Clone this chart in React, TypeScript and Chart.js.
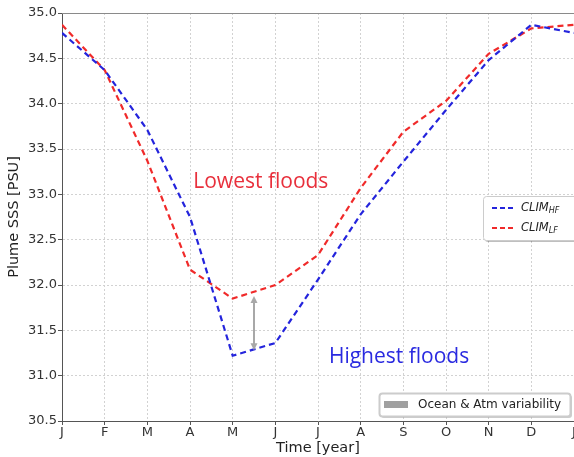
import React, { useEffect, useRef } from "react";
import { Chart, registerables } from "chart.js";

Chart.register(...registerables);

const monthLabels = ["J", "F", "M", "A", "M", "J", "J", "A", "S", "O", "N", "D", "J"];
const monthIndex = [0, 1, 2, 3, 4, 5, 6, 7, 8, 9, 10, 11, 12];
const climHF = [34.78, 34.37, 33.71, 32.75, 31.22, 31.36, 32.06, 32.78, 33.36, 33.93, 34.48, 34.87, 34.78];
const climLF = [34.87, 34.37, 33.37, 32.17, 31.85, 32.0, 32.33, 33.07, 33.69, 34.03, 34.55, 34.83, 34.87];
const yTicks = [30.5, 31.0, 31.5, 32.0, 32.5, 33.0, 33.5, 34.0, 34.5, 35.0];
const arrowX = 4.5;
const arrowRange = [31.88, 31.28];
const annotations = [
  { text: "Lowest floods", x: 4.66, y: 33.14, color: "#e8303c" },
  { text: "Highest floods", x: 7.9, y: 31.21, color: "#2a2ae0" },
];

const BLUE = "#2424dc";
const RED = "#f02a2a";

const overlay = {
  id: "overlay",
  afterDatasetsDraw(chart: any) {
    const ctx = chart.ctx;
    const xs = chart.scales.x;
    const ys = chart.scales.y;
    const ca = chart.chartArea;
    ctx.save();
    ctx.strokeStyle = "#8a8a8a";
    ctx.lineWidth = 1;
    ctx.beginPath();
    ctx.moveTo(ca.left, ca.top + 0.5);
    ctx.lineTo(ca.right, ca.top + 0.5);
    ctx.stroke();

    const ax = xs.getPixelForValue(arrowX);
    const y1 = ys.getPixelForValue(arrowRange[0]);
    const y2 = ys.getPixelForValue(arrowRange[1]);
    ctx.strokeStyle = "#a8a8a8";
    ctx.fillStyle = "#a8a8a8";
    ctx.lineWidth = 2;
    ctx.beginPath();
    ctx.moveTo(ax, y1 + 4);
    ctx.lineTo(ax, y2 - 4);
    ctx.stroke();
    ctx.beginPath();
    ctx.moveTo(ax, y1);
    ctx.lineTo(ax - 3.5, y1 + 7);
    ctx.lineTo(ax + 3.5, y1 + 7);
    ctx.closePath();
    ctx.fill();
    ctx.beginPath();
    ctx.moveTo(ax, y2);
    ctx.lineTo(ax - 3.5, y2 - 7);
    ctx.lineTo(ax + 3.5, y2 - 7);
    ctx.closePath();
    ctx.fill();

    ctx.font = "21px 'Open Sans', 'Noto Sans', sans-serif";
    ctx.textAlign = "center";
    ctx.textBaseline = "middle";
    for (const a of annotations) {
      ctx.fillStyle = a.color;
      ctx.fillText(a.text, xs.getPixelForValue(a.x), ys.getPixelForValue(a.y));
    }

    const roundRect = (x: number, y: number, w: number, h: number, r: number) => {
      ctx.beginPath();
      ctx.moveTo(x + r, y);
      ctx.lineTo(x + w - r, y);
      ctx.quadraticCurveTo(x + w, y, x + w, y + r);
      ctx.lineTo(x + w, y + h - r);
      ctx.quadraticCurveTo(x + w, y + h, x + w - r, y + h);
      ctx.lineTo(x + r, y + h);
      ctx.quadraticCurveTo(x, y + h, x, y + h - r);
      ctx.lineTo(x, y + r);
      ctx.quadraticCurveTo(x, y, x + r, y);
      ctx.closePath();
    };
    const lx = ca.right - 91;
    const ly = ca.top + 183;
    ctx.fillStyle = "rgba(0,0,0,0.25)";
    roundRect(lx + 2, ly + 2, 100, 44, 3);
    ctx.fill();
    ctx.fillStyle = "#ffffff";
    ctx.strokeStyle = "#cccccc";
    ctx.lineWidth = 1;
    roundRect(lx + 0.5, ly + 0.5, 100, 44, 3);
    ctx.fill();
    ctx.stroke();
    const entries = [
      { color: BLUE, sub: "HF" },
      { color: RED, sub: "LF" },
    ];
    entries.forEach((e, i) => {
      const yy = ly + 12 + i * 20;
      ctx.strokeStyle = e.color;
      ctx.lineWidth = 2;
      ctx.setLineDash([5, 3]);
      ctx.beginPath();
      ctx.moveTo(lx + 9, yy);
      ctx.lineTo(lx + 31, yy);
      ctx.stroke();
      ctx.setLineDash([]);
      ctx.fillStyle = "#222222";
      ctx.textAlign = "left";
      ctx.textBaseline = "middle";
      ctx.font = "italic 11.5px 'DejaVu Sans', sans-serif";
      ctx.fillText("CLIM", lx + 38, yy);
      const w = ctx.measureText("CLIM").width;
      ctx.font = "italic 8px 'DejaVu Sans', sans-serif";
      ctx.fillText(e.sub, lx + 38 + w, yy + 3);
    });

    const bx = ca.left + 317;
    const by = ca.bottom - 28;
    ctx.fillStyle = "rgba(0,0,0,0.2)";
    roundRect(bx + 2, by + 2, 191, 23, 3);
    ctx.fill();
    ctx.fillStyle = "#ffffff";
    ctx.strokeStyle = "#cccccc";
    roundRect(bx + 0.5, by + 0.5, 191, 23, 3);
    ctx.fill();
    ctx.stroke();
    ctx.fillStyle = "#a0a0a0";
    ctx.fillRect(bx + 5, by + 8, 24, 7);
    ctx.fillStyle = "#222222";
    ctx.font = "12px 'DejaVu Sans', sans-serif";
    ctx.textAlign = "left";
    ctx.textBaseline = "middle";
    ctx.fillText("Ocean & Atm variability", bx + 39, by + 12);
    ctx.restore();
  },
};

export default function App() {
  const ref = useRef<HTMLCanvasElement>(null);
  useEffect(() => {
    if (!ref.current) return;
    const gridCommon = {
      color: "#d2d2d2",
      lineWidth: 1,
      tickLength: 4,
      tickColor: "#555555",
      tickBorderDash: [],
    };
    const chart = new Chart(ref.current, {
      type: "line",
      data: {
        datasets: [
          {
            label: "CLIM_HF",
            data: monthIndex.map((m, i) => ({ x: m, y: climHF[i] })),
            borderColor: BLUE,
            borderWidth: 2.2,
            borderDash: [6, 4],
            pointRadius: 0,
            fill: false,
            tension: 0,
          },
          {
            label: "CLIM_LF",
            data: monthIndex.map((m, i) => ({ x: m, y: climLF[i] })),
            borderColor: RED,
            borderWidth: 2.2,
            borderDash: [6, 4],
            pointRadius: 0,
            fill: false,
            tension: 0,
          },
        ],
      },
      options: {
        animation: false,
        responsive: false,
        maintainAspectRatio: false,
        layout: { padding: { top: 13, right: 26, left: 0, bottom: 0 } },
        plugins: { legend: { display: false }, tooltip: { enabled: false } },
        scales: {
          x: {
            type: "linear",
            min: 0,
            max: 12,
            afterBuildTicks: (s: any) => {
              s.ticks = monthIndex.map((v) => ({ value: v }));
            },
            ticks: {
              callback: (v: any) => monthLabels[Math.round(v)],
              color: "#333333",
              font: { family: "'DejaVu Sans', sans-serif", size: 13 },
              padding: 0,
              maxRotation: 0,
              autoSkip: false,
            },
            grid: { ...gridCommon },
            border: { color: "#555555", width: 1, dash: [2, 2] },
            title: {
              display: true,
              text: "Time [year]",
              color: "#222222",
              font: { family: "'DejaVu Sans', sans-serif", size: 14.5 },
              padding: { top: -1, bottom: 0 },
            },
            afterFit: (s: any) => {
              s.height = 36;
            },
          },
          y: {
            type: "linear",
            min: 30.5,
            max: 35,
            afterBuildTicks: (s: any) => {
              s.ticks = yTicks.map((v) => ({ value: v }));
            },
            ticks: {
              callback: (v: any) => Number(v).toFixed(1),
              color: "#333333",
              font: { family: "'DejaVu Sans', sans-serif", size: 13 },
              padding: 1,
            },
            grid: { ...gridCommon },
            border: { color: "#555555", width: 1, dash: [2, 2] },
            title: {
              display: true,
              text: "Plume SSS [PSU]",
              color: "#222222",
              font: { family: "'DejaVu Sans', sans-serif", size: 14.5 },
              padding: { top: 6, bottom: 0 },
            },
            afterFit: (s: any) => {
              s.width = 62;
            },
          },
        },
      },
      plugins: [overlay],
    } as any);
    return () => chart.destroy();
  }, []);
  return (
    <div style={{ position: "fixed", left: 0, top: 0, width: 574, height: 457, overflow: "hidden", background: "#fff" }}>
      <canvas ref={ref} width={600} height={457} style={{ display: "block", width: 600, height: 457 }} />
    </div>
  );
}
